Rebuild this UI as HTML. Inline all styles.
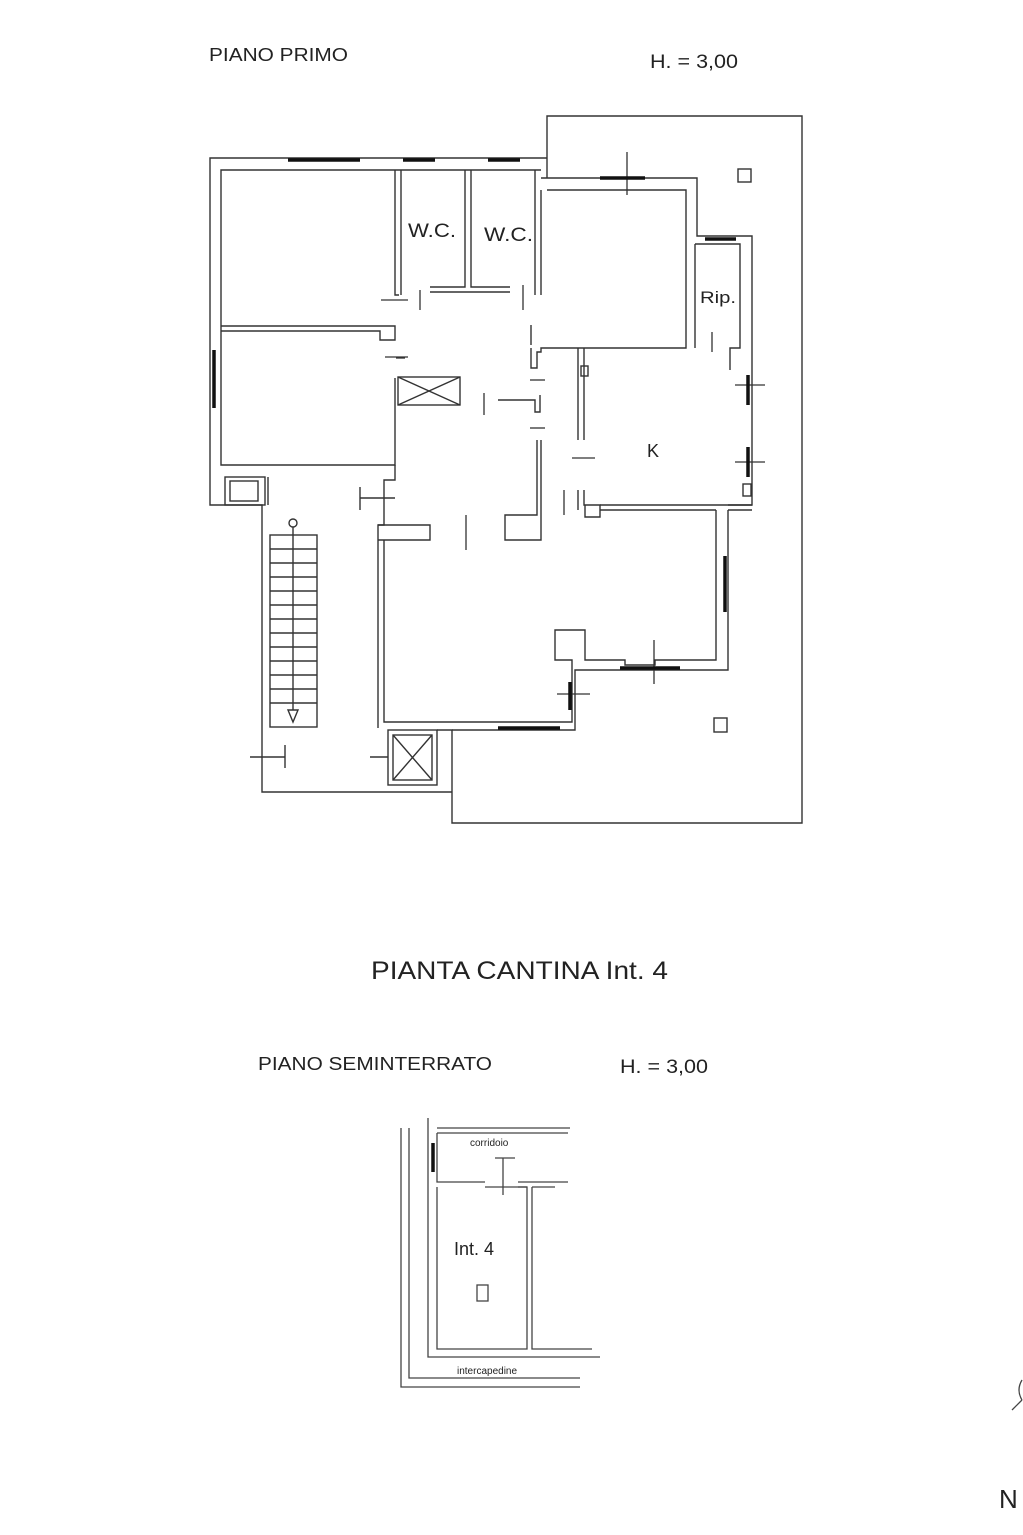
<!DOCTYPE html>
<html><head><meta charset="utf-8"><style>
html,body{margin:0;padding:0;background:#fff;width:1023px;height:1535px;overflow:hidden}
svg{display:block}
text{font-family:"Liberation Sans",Arial,sans-serif;fill:#222}
</style></head><body>
<svg width="1023" height="1535" viewBox="0 0 1023 1535" xmlns="http://www.w3.org/2000/svg">
<g stroke="#333" stroke-width="1.4" fill="none">
<polyline points="547,158 547,116 802,116 802,823 452,823 452,730 437,730"/>
<polyline points="547,158 210,158 210,505 262,505 262,792 452,792"/>
<polyline points="541,170 221,170 221,465 395,465 395,378"/>
<line x1="547" y1="158" x2="547" y2="178"/>
<polyline points="541,178 697,178 697,236 752,236 752,505 740,505"/>
<polyline points="547,190 686,190 686,348 590,348"/>
<polyline points="541,190 541,295"/>
<polyline points="695,244 740,244 740,348 730,348 730,370"/>
<polyline points="695,244 695,348"/>
<polyline points="395,170 395,295 399,295"/><polyline points="401,170 401,295"/>
<polyline points="465,170 465,287 430,287"/><polyline points="471,170 471,287 510,287"/>
<line x1="430" y1="292" x2="510" y2="292"/>
<polyline points="535,170 535,295"/>
<polyline points="221,326 395,326 395,340 380,340 380,331 221,331"/>
<rect x="398" y="377" width="62" height="28"/>
<line x1="398" y1="377" x2="460" y2="405"/><line x1="398" y1="405" x2="460" y2="377"/>
<polyline points="395,465 395,480 384,480 384,525 378,525 378,728"/>
<polyline points="498,400 535,400 535,412 540,412 540,395"/>
<polyline points="537,440 537,515 505,515 505,540 541,540 541,440"/>
<polyline points="378,525 430,525 430,540 378,540"/>
<line x1="531" y1="325" x2="531" y2="345"/>
<polyline points="531,348 531,368 537,368 537,352 541,352 541,348 590,348"/>
<polyline points="578,348 578,440"/><polyline points="584,348 584,440"/>
<polyline points="584,490 584,505 600,505 600,517 585,517 585,505"/>
<polyline points="578,490 578,510"/>
<polyline points="600,505 740,505"/><polyline points="600,510 716,510"/>
<polyline points="716,510 716,660 655,660 655,665 625,665 625,660 585,660 585,630 555,630 555,660 572,660 572,722 384,722 384,540"/>
<polyline points="728,510 728,670 575,670 575,730 452,730"/>
<line x1="728" y1="505" x2="752" y2="505"/><line x1="728" y1="510" x2="752" y2="510"/>
<rect x="270" y="535" width="47" height="192"/>
<path d="M270,549H317M270,563H317M270,577H317M270,591H317M270,605H317M270,619H317M270,633H317M270,647H317M270,661H317M270,675H317M270,689H317M270,703H317"/>
<line x1="293" y1="525" x2="293" y2="720"/>
<circle cx="293" cy="523" r="4" fill="#fff"/>
<path d="M288,710 L293,722 L298,710 Z" fill="#fff"/>
<rect x="225" y="477" width="40" height="28"/><rect x="230" y="481" width="28" height="20"/>
<line x1="268" y1="477" x2="268" y2="505"/>
<rect x="388" y="730" width="49" height="55"/><rect x="393" y="735" width="39" height="45"/>
<line x1="393" y1="735" x2="432" y2="780"/><line x1="393" y1="780" x2="432" y2="735"/>
<line x1="360" y1="487" x2="360" y2="510"/><line x1="360" y1="498" x2="395" y2="498"/>
<line x1="285" y1="745" x2="285" y2="768"/><line x1="250" y1="757" x2="285" y2="757"/>
<line x1="370" y1="757" x2="388" y2="757"/>
<rect x="738" y="169" width="13" height="13"/><rect x="714" y="718" width="13" height="14"/>
<rect x="581" y="366" width="7" height="10"/><rect x="743" y="484" width="8" height="12"/>
</g>
<g stroke="#333" stroke-width="1.3">
<line x1="396" y1="358" x2="405" y2="358"/><line x1="381" y1="300" x2="408" y2="300"/>
<line x1="385" y1="357" x2="408" y2="357"/>
<line x1="420" y1="290" x2="420" y2="310"/><line x1="523" y1="285" x2="523" y2="310"/>
<line x1="530" y1="380" x2="545" y2="380"/><line x1="530" y1="428" x2="545" y2="428"/>
<line x1="484" y1="393" x2="484" y2="415"/>
<line x1="572" y1="458" x2="595" y2="458"/>
<line x1="564" y1="490" x2="564" y2="515"/>
<line x1="466" y1="515" x2="466" y2="550"/>
<line x1="712" y1="332" x2="712" y2="352"/>
<line x1="627" y1="152" x2="627" y2="195"/>
<line x1="735" y1="385" x2="765" y2="385"/><line x1="735" y1="462" x2="765" y2="462"/>
<line x1="654" y1="640" x2="654" y2="684"/>
<line x1="557" y1="694" x2="590" y2="694"/>
</g>
<g stroke="#111" stroke-width="3.5">
<line x1="288" y1="160" x2="360" y2="160"/><line x1="403" y1="160" x2="435" y2="160"/><line x1="488" y1="160" x2="520" y2="160"/>
<line x1="600" y1="178" x2="645" y2="178"/><line x1="705" y1="239" x2="736" y2="239"/>
<line x1="214" y1="350" x2="214" y2="408"/>
<line x1="748" y1="375" x2="748" y2="405"/><line x1="748" y1="447" x2="748" y2="477"/>
<line x1="725" y1="556" x2="725" y2="612"/><line x1="620" y1="668" x2="680" y2="668"/>
<line x1="570" y1="682" x2="570" y2="710"/><line x1="498" y1="728" x2="560" y2="728"/>
<line x1="433" y1="1143" x2="433" y2="1172"/>
</g>
<text x="209" y="61" font-size="18" textLength="139" lengthAdjust="spacingAndGlyphs">PIANO PRIMO</text>
<text x="650" y="68" font-size="19" textLength="88" lengthAdjust="spacingAndGlyphs">H. = 3,00</text>
<text x="408" y="237" font-size="19" textLength="48" lengthAdjust="spacingAndGlyphs">W.C.</text>
<text x="484" y="241" font-size="19" textLength="49" lengthAdjust="spacingAndGlyphs">W.C.</text>
<text x="700" y="303" font-size="17" textLength="36" lengthAdjust="spacingAndGlyphs">Rip.</text>
<text x="647" y="457" font-size="18">K</text>
<text x="371" y="979" font-size="25" textLength="297" lengthAdjust="spacingAndGlyphs">PIANTA CANTINA Int. 4</text>
<text x="258" y="1070" font-size="18" textLength="234" lengthAdjust="spacingAndGlyphs">PIANO SEMINTERRATO</text>
<text x="620" y="1073" font-size="19" textLength="88" lengthAdjust="spacingAndGlyphs">H. = 3,00</text>
<g stroke="#444" stroke-width="1.3" fill="none">
<polyline points="401,1128 401,1387 580,1387"/>
<polyline points="409,1128 409,1378 580,1378"/>
<polyline points="428,1118 428,1357 600,1357"/>
<polyline points="437,1128 570,1128"/>
<line x1="437" y1="1133" x2="568" y2="1133"/>
<polyline points="437,1133 437,1182 485,1182"/>
<line x1="518" y1="1182" x2="568" y2="1182"/>
<polyline points="437,1187 437,1349 527,1349 527,1187 485,1187"/>
<polyline points="532,1187 555,1187"/><polyline points="532,1187 532,1349 592,1349"/>
<line x1="518" y1="1187" x2="527" y2="1187"/>
<line x1="495" y1="1158" x2="515" y2="1158"/><line x1="503" y1="1158" x2="503" y2="1195"/>
<rect x="477" y="1285" width="11" height="16"/>
<path d="M1022,1380 Q1016,1390 1022,1400"/><path d="M1012,1410 L1022,1400"/>
</g>
<text x="470" y="1146" font-size="10">corridoio</text>
<text x="454" y="1255" font-size="18">Int. 4</text>
<text x="457" y="1374" font-size="10">intercapedine</text>
<text x="999" y="1508" font-size="26">N</text>
</svg>
</body></html>
